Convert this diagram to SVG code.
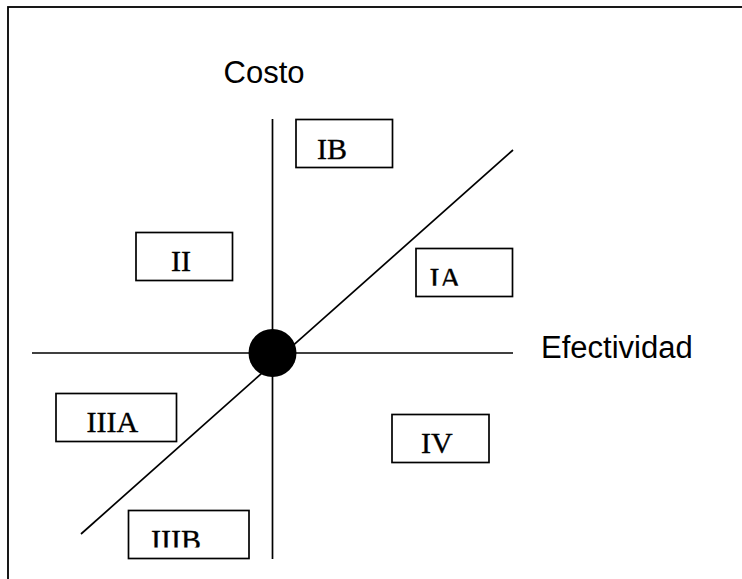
<svg xmlns="http://www.w3.org/2000/svg" width="742" height="579" viewBox="0 0 742 579">
<style>
.box{fill:#fff;stroke:#000;stroke-width:1.7}
.lbl{font-family:"Liberation Serif","Times New Roman",serif;font-size:30px;fill:#000;stroke:#000;stroke-width:0.35}
.axis{font-family:"Liberation Sans",Arial,sans-serif;font-size:31px;fill:#000}
.ln{stroke:#000;stroke-width:1.7;fill:none}
</style>
<defs>
<clipPath id="cIA"><rect x="416" y="248" width="97" height="37.7"/></clipPath>
<clipPath id="cIIIB"><rect x="128" y="510" width="121" height="37.5"/></clipPath>
</defs>
<rect x="0" y="0" width="742" height="579" fill="#fff"/>
<rect x="8" y="7" width="740" height="580" fill="none" stroke="#000" stroke-width="1.8"/>
<text class="axis" x="223.5" y="82.7">Costo</text>
<text class="axis" x="541" y="357.7">Efectividad</text>
<g id="connectors">
<line class="ln" x1="272.5" y1="119" x2="272.5" y2="559"/>
<line class="ln" x1="32" y1="353" x2="513" y2="353"/>
<line class="ln" x1="513" y1="150" x2="81" y2="534"/>
</g>
<g id="center"><circle cx="272.5" cy="353" r="24" fill="#000"/></g>
<g id="IB"><rect class="box" x="296" y="119.5" width="96.5" height="48"/><text class="lbl" x="317" y="159.3">IB</text></g>
<g id="II"><rect class="box" x="136" y="232.5" width="96.5" height="48"/><text class="lbl" x="171" y="271.3">II</text></g>
<g id="IA"><rect class="box" x="416" y="248.5" width="96.5" height="48"/><text class="lbl" x="429.5" y="288" clip-path="url(#cIA)">IA</text></g>
<g id="IIIA"><rect class="box" x="56" y="393.5" width="120.5" height="48"/><text class="lbl" x="86.5" y="431.5">IIIA</text></g>
<g id="IV"><rect class="box" x="392" y="414.5" width="97" height="48"/><text class="lbl" x="421" y="453.3">IV</text></g>
<g id="IIIB"><rect class="box" x="128.5" y="510.5" width="120.5" height="48"/><text class="lbl" x="151" y="549.5" clip-path="url(#cIIIB)">IIIB</text></g>
</svg>
